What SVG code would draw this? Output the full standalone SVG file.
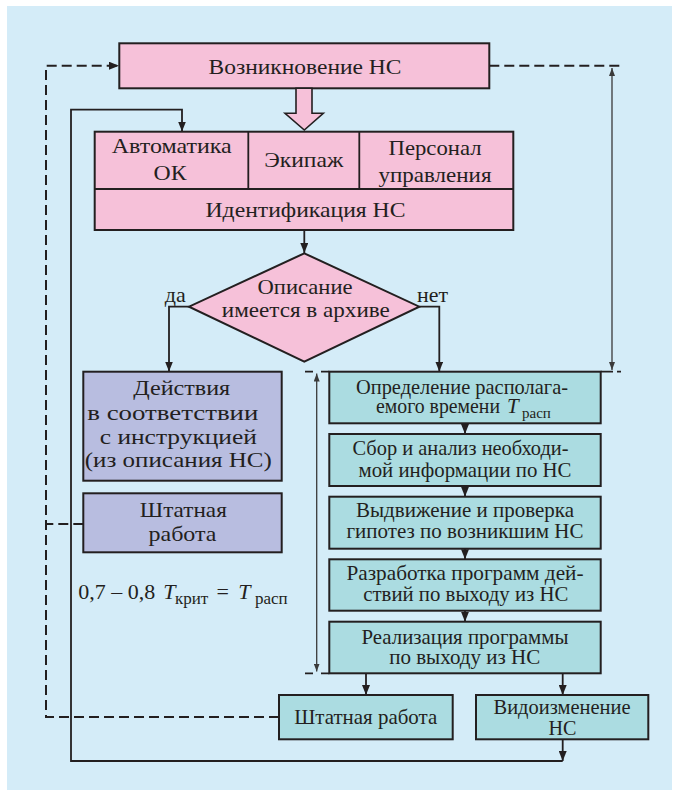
<svg xmlns="http://www.w3.org/2000/svg" width="679" height="796" viewBox="0 0 679 796" font-family="'Liberation Serif', 'Times New Roman', serif">
<style>
text{font-family:"Liberation Serif","Times New Roman",serif;fill:#231f20;text-anchor:middle;}
.t22{font-size:22px;}
.t21{font-size:21px;}
.pink{fill:#f6c1d9;stroke:#231f20;stroke-width:2;}
.purp{fill:#b8bde0;stroke:#231f20;stroke-width:2;}
.teal{fill:#abdce1;stroke:#231f20;stroke-width:2;}
.ln{fill:none;stroke:#231f20;stroke-width:1.8;}
.dash{fill:none;stroke:#231f20;stroke-width:2;stroke-dasharray:10,5;}
.dim{fill:none;stroke:#3a3a3a;stroke-width:1.3;}
.it{font-style:italic;}
.sub{font-size:15px;font-style:normal;}
.sub17{font-size:17px;font-style:normal;}
.st{text-anchor:start;}
</style>
<defs>
<marker id="arr" markerUnits="userSpaceOnUse" markerWidth="10" markerHeight="8" refX="10" refY="4" orient="auto"><path d="M0,0 L10,4 L0,8 z" fill="#231f20"/></marker>
<marker id="arrs" markerUnits="userSpaceOnUse" markerWidth="8" markerHeight="6" refX="8" refY="3" orient="auto-start-reverse"><path d="M0,0 L8,3 L0,6 z" fill="#3a3a3a"/></marker>
</defs>
<rect x="7" y="6" width="665" height="784" fill="#d4ecf8"/>

<g id="connectors">
<path class="ln" d="M304.3,230 V253" marker-end="url(#arr)"/>
<path class="ln" d="M189,306.7 H169 V371.5" marker-end="url(#arr)"/>
<path class="ln" d="M419.3,306.7 H439.3 V371.5" marker-end="url(#arr)"/>
<path class="ln" d="M465,423.3 V434" marker-end="url(#arr)"/>
<path class="ln" d="M465,486 V496.7" marker-end="url(#arr)"/>
<path class="ln" d="M465,548.7 V559.3" marker-end="url(#arr)"/>
<path class="ln" d="M465,610.7 V621.7" marker-end="url(#arr)"/>
<path class="ln" d="M366,673.3 V695" marker-end="url(#arr)"/>
<path class="ln" d="M562.7,673.3 V695" marker-end="url(#arr)"/>
<path class="ln" d="M562.7,739.3 V761" marker-end="url(#arr)"/>
<path class="ln" d="M562.7,761 H71 V109.7 H182 V131.5" marker-end="url(#arr)"/>
<path class="dash" d="M279,717 H46 V65.7 H119" marker-end="url(#arr)"/>
<path class="dash" d="M83.3,524 H46"/>
<path class="dash" d="M489.3,65.7 H621"/>
<path class="dim" d="M612,68 V370" marker-start="url(#arrs)" marker-end="url(#arrs)"/>
<path class="dim" d="M316.7,373.5 V671.5" marker-start="url(#arrs)" marker-end="url(#arrs)"/>
<path class="ln" d="M305,371.7 H313 M321,371.7 H329.3 M600.7,371.7 H613 M617,371.7 H621"/>
<path class="ln" d="M305,673.3 H313 M321,673.3 H329.3"/>
</g>

<g id="n-start">
<rect class="pink" x="119.3" y="43.3" width="370" height="45"/>
<text class="t22" x="305" y="74" textLength="193" lengthAdjust="spacingAndGlyphs">Возникновение НС</text>
</g>
<g id="n-bigarrow">
<polygon points="296,88.3 312,88.3 312,113.3 323.3,113.3 304.3,130 285,113.3 296,113.3" fill="#f6c1d9" stroke="#231f20" stroke-width="1.6"/>
</g>
<g id="n-grid">
<rect class="pink" x="94.7" y="131.7" width="418.6" height="98.3"/>
<path class="ln" d="M248.3,131.7 V189 M359.3,131.7 V189 M94.7,189 H513.3" stroke-width="2"/>
<text class="t22" x="171.7" y="153.3" textLength="120" lengthAdjust="spacingAndGlyphs">Автоматика</text>
<text class="t22" x="170" y="180" textLength="33" lengthAdjust="spacingAndGlyphs">ОК</text>
<text class="t22" x="303.7" y="166.7" textLength="79" lengthAdjust="spacingAndGlyphs">Экипаж</text>
<text class="t22" x="435" y="155" textLength="93" lengthAdjust="spacingAndGlyphs">Персонал</text>
<text class="t22" x="435" y="182" textLength="113" lengthAdjust="spacingAndGlyphs">управления</text>
<text class="t22" x="305.5" y="216.7" textLength="200" lengthAdjust="spacingAndGlyphs">Идентификация НС</text>
</g>
<g id="n-decision">
<polygon points="304.3,253.3 419.3,306.7 304.3,361.7 189,306.7" fill="#f6c1d9" stroke="#231f20" stroke-width="2"/>
<text class="t22" x="305" y="294.3" textLength="95" lengthAdjust="spacingAndGlyphs">Описание</text>
<text class="t22" x="305.8" y="316.7" textLength="168" lengthAdjust="spacingAndGlyphs">имеется в архиве</text>
</g>
<g id="labels">
<text class="t22" x="175.3" y="301.7" textLength="21" lengthAdjust="spacingAndGlyphs">да</text>
<text class="t22" x="432.5" y="301.7" textLength="31" lengthAdjust="spacingAndGlyphs">нет</text>
</g>
<g id="n-actions">
<rect class="purp" x="83.3" y="371.7" width="198.4" height="109"/>
<text class="t22" x="181.7" y="395" textLength="97" lengthAdjust="spacingAndGlyphs">Действия</text>
<text class="t22" x="172.8" y="420" textLength="171" lengthAdjust="spacingAndGlyphs">в соответствии</text>
<text class="t22" x="178.3" y="444" textLength="157" lengthAdjust="spacingAndGlyphs">с инструкцией</text>
<text class="t22" x="178.3" y="467" textLength="187" lengthAdjust="spacingAndGlyphs">(из описания НС)</text>
</g>
<g id="n-normal1">
<rect class="purp" x="83.3" y="493.3" width="198.4" height="59"/>
<text class="t22" x="183.3" y="517.3" textLength="87" lengthAdjust="spacingAndGlyphs">Штатная</text>
<text class="t22" x="182.5" y="540.5" textLength="68" lengthAdjust="spacingAndGlyphs">работа</text>
</g>
<g id="formula">
<text class="t22 st" x="78.3" y="599">0,7 – 0,8 <tspan class="it" x="163.3">T</tspan><tspan class="sub17" x="175" dy="5">крит</tspan><tspan x="216.5" dy="-5">=</tspan><tspan class="it" x="238.3">T</tspan><tspan class="sub17" x="255" dy="5">расп</tspan></text>
</g>
<g id="n-step1">
<rect class="teal" x="329.3" y="371.7" width="271.4" height="51.6"/>
<text class="t21" x="462" y="394" textLength="212" lengthAdjust="spacingAndGlyphs">Определение располага-</text>
<text class="t21 st" x="376" y="413" textLength="124" lengthAdjust="spacingAndGlyphs">емого времени</text>
<text class="t21 it st" x="507" y="413">T<tspan class="sub" x="522" dy="5">расп</tspan></text>
</g>
<g id="n-step2">
<rect class="teal" x="329.3" y="434" width="271.4" height="52"/>
<text class="t21" x="460.5" y="455" textLength="216" lengthAdjust="spacingAndGlyphs">Сбор и анализ необходи-</text>
<text class="t21" x="465" y="476.7" textLength="213" lengthAdjust="spacingAndGlyphs">мой информации по НС</text>
</g>
<g id="n-step3">
<rect class="teal" x="329.3" y="496.7" width="271.4" height="52"/>
<text class="t21" x="465" y="517.3" textLength="218" lengthAdjust="spacingAndGlyphs">Выдвижение и проверка</text>
<text class="t21" x="465" y="538.3" textLength="237" lengthAdjust="spacingAndGlyphs">гипотез по возникшим НС</text>
</g>
<g id="n-step4">
<rect class="teal" x="329.3" y="559.3" width="271.4" height="51.4"/>
<text class="t21" x="465" y="580" textLength="237" lengthAdjust="spacingAndGlyphs">Разработка программ дей-</text>
<text class="t21" x="465.8" y="600.7" textLength="205" lengthAdjust="spacingAndGlyphs">ствий по выходу из НС</text>
</g>
<g id="n-step5">
<rect class="teal" x="329.3" y="621.7" width="271.4" height="51.6"/>
<text class="t21" x="465" y="644" textLength="207" lengthAdjust="spacingAndGlyphs">Реализация программы</text>
<text class="t21" x="464.7" y="664" textLength="151" lengthAdjust="spacingAndGlyphs">по выходу из НС</text>
</g>
<g id="n-normal2">
<rect class="teal" x="279" y="695" width="173.7" height="44.3"/>
<text class="t21" x="365.7" y="724" textLength="143" lengthAdjust="spacingAndGlyphs">Штатная работа</text>
</g>
<g id="n-modify">
<rect class="teal" x="476" y="695" width="172.3" height="44.3"/>
<text class="t21" x="562" y="714.3" textLength="137" lengthAdjust="spacingAndGlyphs">Видоизменение</text>
<text class="t21" x="562.5" y="735" textLength="28" lengthAdjust="spacingAndGlyphs">НС</text>
</g>
</svg>
